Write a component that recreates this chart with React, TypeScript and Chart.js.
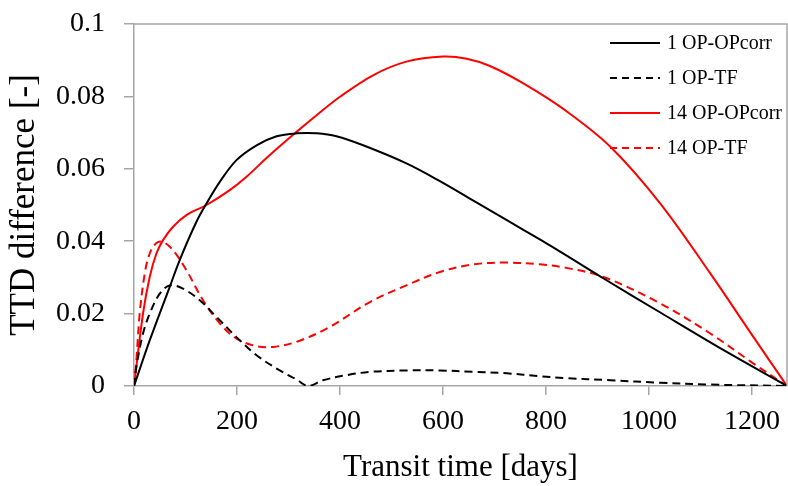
import React, { useEffect, useRef } from "react";
import { Chart, registerables } from "chart.js";

Chart.register(...registerables);

// ---- Data ----
const xTicks = [0, 200, 400, 600, 800, 1000, 1200];
const yTicks = [0, 0.02, 0.04, 0.06, 0.08, 0.1];
const yTickLabels = ["0", "0.02", "0.04", "0.06", "0.08", "0.1"];
const xMax = 1268;

const seriesLabels = ["1 OP-OPcorr", "1 OP-TF", "14 OP-OPcorr", "14 OP-TF"];

const days1Corr = [0, 30.5, 69.4, 88.8, 121, 140.7, 166.6, 199, 238, 277, 316, 355, 393, 445, 529, 594, 659, 724, 788, 837, 912, 1022, 1151, 1268];
const vals1Corr = [0, 0.0126, 0.0274, 0.0348, 0.0453, 0.0504, 0.0564, 0.0624, 0.0665, 0.069, 0.0698, 0.0698, 0.069, 0.0665, 0.0615, 0.0566, 0.0512, 0.0458, 0.0405, 0.0363, 0.0297, 0.0203, 0.0094, 0];

const days1TF = [0, 4.6, 17.5, 30.5, 50, 69.4, 95, 127.7, 160, 199, 238, 283, 315.6, 338, 367, 413, 458, 529, 594, 659, 724, 788, 837, 925, 1022, 1119, 1268];
const vals1TF = [0, 0.0053, 0.0145, 0.02, 0.0255, 0.0278, 0.0269, 0.0237, 0.0191, 0.0135, 0.0085, 0.0043, 0.0018, 0, 0.0016, 0.003, 0.0039, 0.0043, 0.0043, 0.0039, 0.0035, 0.0027, 0.0022, 0.0016, 0.0009, 0.0004, 0];

const days14Corr = [0, 17.5, 30.5, 43.5, 56.4, 75.8, 101.8, 140.7, 186, 218.5, 263.7, 315.6, 354.5, 400, 465, 529, 600, 646, 691, 756, 837, 925, 1022, 1119, 1203, 1268];
const vals14Corr = [0, 0.02, 0.0301, 0.0366, 0.0403, 0.044, 0.0472, 0.05, 0.0541, 0.0578, 0.0638, 0.0702, 0.0748, 0.0799, 0.0859, 0.0896, 0.091, 0.0904, 0.0884, 0.0836, 0.0762, 0.0661, 0.0504, 0.0311, 0.0135, 0];

const days14TF = [0, 4.6, 11, 20.8, 30.5, 43.5, 56.4, 75.8, 101.8, 134, 166.6, 199, 238, 270, 315.6, 380, 458, 529, 594, 659, 724, 788, 837, 912, 1022, 1119, 1203, 1268];
const vals14TF = [0, 0.0071, 0.02, 0.031, 0.0366, 0.0395, 0.0398, 0.0375, 0.032, 0.0237, 0.0173, 0.0131, 0.011, 0.0108, 0.0122, 0.0163, 0.0232, 0.0278, 0.0315, 0.0336, 0.0341, 0.0336, 0.0327, 0.0301, 0.0228, 0.0145, 0.0062, 0];

// ---- Styles ----
const FONT = '"Liberation Serif", "Times New Roman", serif';
const AXIS_GRAY = "#a6a6a6";
const BLACK = "#000000";
const RED = "#ff0000";

const toPoints = (xs: number[], ys: number[]) => xs.map((x, i) => ({ x, y: ys[i] }));

const boxPlugin = {
  id: "boxPlugin",
  afterDraw(chart: any) {
    const { ctx, chartArea: a } = chart;
    ctx.save();
    ctx.strokeStyle = AXIS_GRAY;
    ctx.lineWidth = 1.5;
    ctx.beginPath();
    ctx.moveTo(a.left, a.top);
    ctx.lineTo(a.right, a.top);
    ctx.lineTo(a.right, a.bottom);
    ctx.stroke();
    ctx.restore();
  },
};

const legendPlugin = {
  id: "customLegend",
  afterDraw(chart: any) {
    const { ctx, chartArea: a } = chart;
    const x0 = a.right - 177;
    chart.data.datasets.forEach((ds: any, i: number) => {
      const y = a.top + 19 + i * 35;
      ctx.save();
      ctx.strokeStyle = ds.borderColor;
      ctx.lineWidth = 2;
      ctx.setLineDash(ds.borderDash && ds.borderDash.length ? [7, 5] : []);
      ctx.beginPath();
      ctx.moveTo(x0, y);
      ctx.lineTo(x0 + 50, y);
      ctx.stroke();
      ctx.setLineDash([]);
      ctx.fillStyle = BLACK;
      ctx.font = `20px ${FONT}`;
      ctx.textBaseline = "middle";
      ctx.textAlign = "left";
      ctx.fillText(ds.label, x0 + 57, y + 1);
      ctx.restore();
    });
  },
};

export default function App() {
  const ref = useRef<HTMLCanvasElement | null>(null);

  useEffect(() => {
    if (!ref.current) return;
    const mk = (label: string, xs: number[], ys: number[], color: string, dashed: boolean) => ({
      label,
      data: toPoints(xs, ys),
      borderColor: color,
      backgroundColor: color,
      borderWidth: 2,
      borderDash: dashed ? [8, 5] : [],
      pointRadius: 0,
      fill: false,
      tension: 0.35,
    });
    const chart = new Chart(ref.current, {
      type: "line",
      data: {
        datasets: [
          mk(seriesLabels[0], days1Corr, vals1Corr, BLACK, false),
          mk(seriesLabels[1], days1TF, vals1TF, BLACK, true),
          mk(seriesLabels[2], days14Corr, vals14Corr, RED, false),
          mk(seriesLabels[3], days14TF, vals14TF, RED, true),
        ],
      },
      options: {
        animation: false,
        responsive: false,
        devicePixelRatio: 1,
        layout: { padding: { top: 24, right: 1, left: 0, bottom: 0 } },
        plugins: {
          legend: { display: false },
          tooltip: { enabled: false },
        },
        scales: {
          x: {
            type: "linear",
            min: 0,
            max: xMax,
            afterBuildTicks: (s: any) => {
              s.ticks = xTicks.map((v) => ({ value: v }));
            },
            afterFit: (s: any) => {
              s.height = 100;
              s.paddingLeft = 0;
              s.paddingRight = 0;
            },
            ticks: {
              color: BLACK,
              font: { family: FONT, size: 28 },
              padding: 10,
              maxRotation: 0,
              autoSkip: false,
              callback: (v: any) => String(v),
            },
            grid: {
              display: true,
              drawOnChartArea: false,
              drawTicks: true,
              tickLength: 9,
              color: AXIS_GRAY,
              lineWidth: 1.5,
            },
            border: { display: true, color: AXIS_GRAY, width: 1.5 },
            title: {
              display: true,
              text: "Transit time [days]",
              color: BLACK,
              font: { family: FONT, size: 31 },
              padding: { top: 0, bottom: 0 },
            },
          },
          y: {
            type: "linear",
            min: 0,
            max: 0.1,
            afterBuildTicks: (s: any) => {
              s.ticks = yTicks.map((v) => ({ value: v }));
            },
            afterFit: (s: any) => {
              s.width = 134;
              s.paddingTop = 0;
              s.paddingBottom = 0;
            },
            ticks: {
              color: BLACK,
              font: { family: FONT, size: 28 },
              padding: 19,
              autoSkip: false,
              callback: (_v: any, i: number) => yTickLabels[i],
            },
            grid: {
              display: true,
              drawOnChartArea: false,
              drawTicks: true,
              tickLength: 10,
              color: AXIS_GRAY,
              lineWidth: 1.5,
            },
            border: { display: true, color: AXIS_GRAY, width: 1.5 },
            title: {
              display: true,
              text: "TTD difference [-]",
              color: BLACK,
              font: { family: FONT, size: 35 },
              padding: { top: 4, bottom: 0 },
            },
          },
        },
      },
      plugins: [boxPlugin, legendPlugin],
    });
    return () => chart.destroy();
  }, []);

  return (
    <div style={{ position: "absolute", left: 0, top: 0, width: 788, height: 486, background: "#fff" }}>
      <canvas ref={ref} width={788} height={486} style={{ display: "block" }} />
    </div>
  );
}
